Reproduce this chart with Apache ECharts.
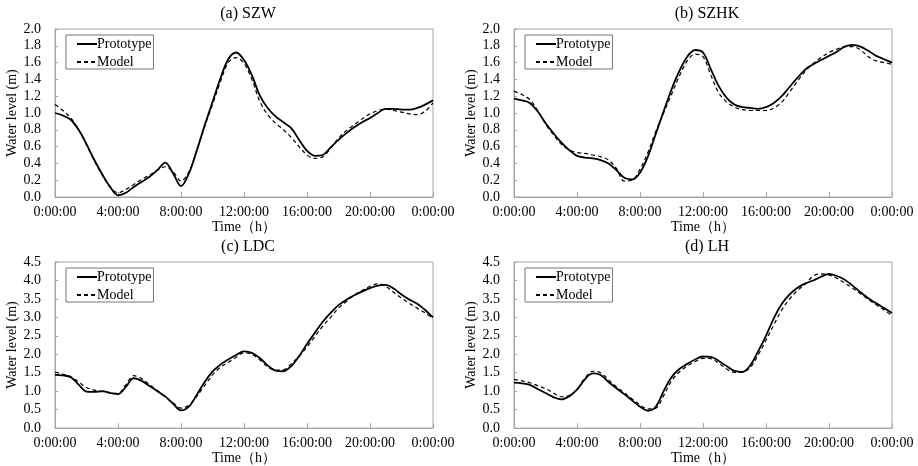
<!DOCTYPE html>
<html>
<head>
<meta charset="utf-8">
<script src="https://cdn.jsdelivr.net/npm/echarts@6/dist/echarts.min.js"></script>
<style>
html,body{margin:0;padding:0;background:#fff;}
#chart{width:918px;height:466px;}
</style>
</head>
<body>
<div id="chart"></div>
<script>
// Time in hours (half-hour steps)
const hours = [0,0.5,1,1.5,2,2.5,3,3.5,4,4.5,5,5.5,6,6.5,7,7.5,8,8.5,9,9.5,10,10.5,11,11.5,12,12.5,13,13.5,14,14.5,15,15.5,16,16.5,17,17.5,18,18.5,19,19.5,20,20.5,21,21.5,22,22.5,23,23.5,24];
const xTickLabels = ['0:00:00','4:00:00','8:00:00','12:00:00','16:00:00','20:00:00','0:00:00'];
const panelTitles = ['(a) SZW','(b) SZHK','(c) LDC','(d) LH'];
const seriesNames = ['Prototype','Model'];

const szwPrototype = [1.00,0.97,0.92,0.80,0.63,0.44,0.27,0.12,0.02,0.05,0.12,0.18,0.24,0.32,0.41,0.28,0.13,0.28,0.55,0.85,1.13,1.41,1.64,1.72,1.63,1.45,1.21,1.06,0.96,0.89,0.82,0.68,0.55,0.49,0.50,0.59,0.68,0.76,0.83,0.89,0.94,1.00,1.05,1.05,1.04,1.04,1.06,1.10,1.15];
const szwModel     = [1.10,1.03,0.94,0.80,0.62,0.43,0.26,0.12,0.05,0.09,0.15,0.21,0.26,0.32,0.36,0.30,0.19,0.30,0.56,0.84,1.10,1.37,1.60,1.66,1.59,1.40,1.14,0.98,0.88,0.80,0.71,0.60,0.50,0.46,0.48,0.58,0.70,0.79,0.86,0.93,0.99,1.03,1.05,1.03,1.01,0.99,0.98,1.02,1.12];

const szhkPrototype = [1.17,1.15,1.12,1.02,0.88,0.76,0.65,0.56,0.49,0.47,0.46,0.44,0.40,0.32,0.23,0.21,0.29,0.48,0.75,1.02,1.28,1.50,1.67,1.75,1.72,1.52,1.32,1.18,1.10,1.07,1.06,1.05,1.07,1.12,1.20,1.31,1.42,1.52,1.58,1.63,1.68,1.73,1.79,1.81,1.79,1.74,1.68,1.64,1.60];
const szhkModel     = [1.26,1.22,1.16,1.03,0.87,0.74,0.63,0.56,0.53,0.52,0.50,0.48,0.44,0.34,0.19,0.20,0.33,0.53,0.78,1.00,1.22,1.44,1.62,1.70,1.67,1.45,1.24,1.13,1.07,1.04,1.03,1.03,1.03,1.06,1.13,1.25,1.38,1.50,1.59,1.66,1.72,1.76,1.79,1.79,1.75,1.67,1.62,1.60,1.58];

const ldcPrototype = [1.44,1.43,1.38,1.18,0.99,0.98,1.00,0.95,0.92,1.12,1.35,1.28,1.14,1.00,0.86,0.66,0.48,0.58,0.90,1.25,1.53,1.72,1.86,1.98,2.08,2.04,1.90,1.70,1.56,1.54,1.68,1.95,2.28,2.58,2.88,3.12,3.33,3.48,3.60,3.70,3.79,3.86,3.88,3.78,3.62,3.48,3.37,3.20,3.00];
const ldcModel     = [1.52,1.46,1.40,1.25,1.10,1.03,0.99,0.96,0.94,1.18,1.42,1.34,1.18,1.02,0.84,0.68,0.54,0.62,0.86,1.15,1.44,1.65,1.78,1.92,2.04,2.00,1.85,1.66,1.57,1.58,1.74,1.95,2.20,2.48,2.76,3.00,3.25,3.43,3.60,3.73,3.84,3.91,3.84,3.68,3.52,3.38,3.25,3.12,2.98];

const lhPrototype = [1.23,1.21,1.17,1.06,0.95,0.84,0.78,0.86,1.04,1.32,1.48,1.44,1.25,1.08,0.92,0.75,0.58,0.47,0.58,1.00,1.38,1.60,1.74,1.86,1.94,1.93,1.82,1.68,1.55,1.52,1.70,2.08,2.50,2.98,3.36,3.62,3.80,3.92,4.00,4.10,4.18,4.12,4.02,3.86,3.68,3.52,3.38,3.25,3.12];
const lhModel     = [1.32,1.28,1.23,1.15,1.07,0.95,0.85,0.88,1.05,1.35,1.54,1.50,1.31,1.12,0.96,0.79,0.63,0.52,0.54,0.88,1.28,1.52,1.68,1.80,1.89,1.88,1.76,1.60,1.51,1.52,1.64,1.98,2.38,2.80,3.20,3.50,3.73,3.90,4.12,4.18,4.15,4.06,3.93,3.79,3.64,3.48,3.34,3.20,3.05];

const yMax = [2.0, 2.0, 4.5, 4.5];
const yInterval = [0.2, 0.2, 0.5, 0.5];
const panelData = [[szwPrototype, szwModel],[szhkPrototype, szhkModel],[ldcPrototype, ldcModel],[lhPrototype, lhModel]];

const FONT = '"Liberation Serif", "Times New Roman", serif';
const grids = [
  {left:55, top:29, width:378, height:168},
  {left:514, top:29, width:378, height:168},
  {left:55, top:262, width:378, height:168},
  {left:514, top:262, width:378, height:168}
];

const option = {
  backgroundColor:'#fff',
  animation:false,
  title: grids.map((g,i)=>({
    text: panelTitles[i],
    left: g.left + g.width/2 + 4,
    top: g.top - 23,
    textAlign:'center',
    padding:0,
    textStyle:{fontFamily:FONT, fontSize:16, fontWeight:'normal', color:'#000'}
  })),
  legend: grids.map((g,i)=>({
    orient:'vertical',
    left: g.left + 11,
    top: g.top + 6,
    data: seriesNames.map(n=>n+'#'+i),
    formatter: n=>n.split('#')[0],
    itemWidth:20, itemHeight:14, itemGap:4,
    padding:[2,2,0,10],
    borderColor:'#777', borderWidth:1, borderRadius:0,
    backgroundColor:'#fff',
    itemStyle:{opacity:0},
    textStyle:{fontFamily:FONT, fontSize:14, color:'#000', padding:[0,0,0,-5]}
  })),
  grid: grids.map(g=>Object.assign({show:true, borderColor:'#a6a6a6', borderWidth:1, containLabel:false}, g)),
  xAxis: grids.map((g,i)=>({
    type:'value', gridIndex:i, min:0, max:24, interval:4,
    name:'Time（h）', nameLocation:'middle', nameGap:18,
    nameTextStyle:{fontFamily:FONT, fontSize:14, color:'#000'},
    axisLine:{show:true, lineStyle:{color:'#a6a6a6', width:1}},
    axisTick:{show:true, inside:true, length:5, lineStyle:{color:'#a6a6a6'}},
    axisLabel:{fontFamily:FONT, fontSize:14, color:'#000', margin:8,
      formatter: v=>xTickLabels[Math.round(v/4)]},
    splitLine:{show:false}
  })),
  yAxis: grids.map((g,i)=>({
    type:'value', gridIndex:i, min:0, max:yMax[i], interval:yInterval[i],
    name:'Water level (m)', nameLocation:'middle', nameGap:35,
    nameTextStyle:{fontFamily:FONT, fontSize:14, color:'#000'},
    axisLine:{show:true, lineStyle:{color:'#a6a6a6', width:1}},
    axisTick:{show:true, inside:true, length:3, lineStyle:{color:'#a6a6a6'}},
    axisLabel:{fontFamily:FONT, fontSize:14, color:'#000', margin:14,
      formatter: v=>v.toFixed(1)},
    splitLine:{show:false}
  })),
  series: []
};

panelData.forEach((pair,i)=>{
  pair.forEach((vals,k)=>{
    option.series.push({
      type:'line',
      name: seriesNames[k]+'#'+i,
      xAxisIndex:i, yAxisIndex:i,
      data: hours.map((h,j)=>[h, vals[j]]),
      smooth:0.35,
      symbol:'none',
      showSymbol:false,
      z: k===0 ? 3 : 2,
      lineStyle: k===0 ? {color:'#000', width:1.8, type:'solid'} : {color:'#000', width:1.2, type:[4,3]},
      itemStyle:{color:'#000'}
    });
  });
});

const chart = echarts.init(document.getElementById('chart'), null, {renderer:'canvas'});
chart.setOption(option);
</script>
</body>
</html>
